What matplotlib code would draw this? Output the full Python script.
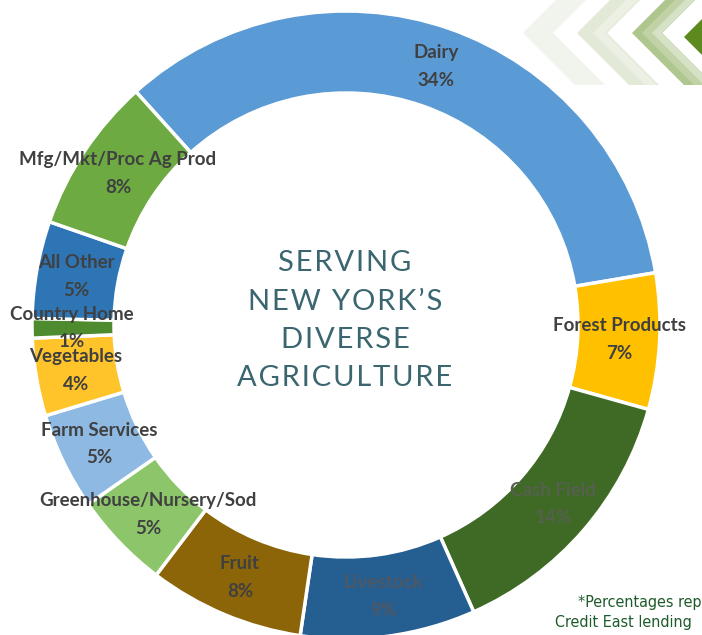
import matplotlib.pyplot as plt
from matplotlib.patches import Polygon

categories = ['Dairy', 'Forest Products', 'Cash Field', 'Livestock', 'Fruit',
              'Greenhouse/Nursery/Sod', 'Farm Services', 'Vegetables',
              'Country Home', 'All Other', 'Mfg/Mkt/Proc Ag Prod']
shares = [34, 7, 14, 9, 8, 5, 5, 4, 1, 5, 8]
colors = ['#5B9BD5', '#FFC000', '#3E6A26', '#255E91', '#8B6508',
          '#8CC56A', '#8DB9E3', '#FFC42A', '#4E8A2E', '#2E75B6', '#6DAA41']
label_colors = ['#404040', '#404040', '#55604d', '#4d5865', '#404040',
                '#404040', '#404040', '#404040', '#404040', '#404040', '#404040']

center_title = ['SERVING', 'NEW YORK\u2019S', 'DIVERSE', 'AGRICULTURE']
footnote = ['*Percentages rep', 'Credit East lending']

W, H = 702, 635
fig = plt.figure(figsize=(W / 100, H / 100), dpi=100)
ax = fig.add_axes([0, 0, 1, 1])


def py(y):
    # picture rows go down, axes go up
    return H - y


# chevron decoration in the top right corner, cut flat at row 85
def chevron(xv, yv, thick, color, bottom=85):
    up = yv + 10
    down = bottom - yv
    pts = [(xv, yv), (xv + up, yv - up), (xv + up + thick, yv - up),
           (xv + thick, yv), (xv + thick + down, bottom), (xv + down, bottom)]
    return Polygon([(x, py(y)) for x, y in pts], closed=True, color=color, lw=0, zorder=0)


ax.add_patch(chevron(523, 33, 30, '#F1F4EC'))
ax.add_patch(chevron(577, 33, 30, '#E2E9D6'))
ax.add_patch(chevron(593, 33, 12, '#ECF0E4'))
ax.add_patch(chevron(632, 33, 30, '#AFC68E'))
ax.add_patch(chevron(642, 33, 20, '#C1D3A6'))
ax.add_patch(chevron(652, 33, 10, '#D6E2C6'))
ax.add_patch(chevron(684, 37, 90, '#5C8A1E', bottom=60))

labels = [f'{c}\n{s}%' for c, s in zip(categories, shares)]
wedges, texts = ax.pie(shares, labels=labels, colors=colors, startangle=132,
                       counterclock=False, center=(346, py(325)), radius=314,
                       labeldistance=0.872,
                       wedgeprops=dict(width=82, edgecolor='white', linewidth=2.5),
                       textprops=dict(fontsize=13.5, fontweight='bold',
                                      family=['Lato', 'DejaVu Sans'],
                                      linespacing=1.75))
for t, c in zip(texts, label_colors):
    t.set_ha('center')
    t.set_va('center')
    t.set_color(c)

ax.set_xlim(0, W)
ax.set_ylim(0, H)
ax.set_aspect('equal')
ax.axis('off')

hair = '\u200a'
for i, line in enumerate(center_title):
    ax.text(345, py(263 + i * 38.5), hair.join(line), ha='center', va='center',
            fontsize=21, color='#3B6670', family=['Lato', 'DejaVu Sans'])

ax.text(701, py(602), footnote[0], ha='right', va='center', fontsize=11.5,
        color='#1E5B2A', family='DejaVu Sans', fontstretch='condensed')
ax.text(692, py(622), footnote[1], ha='right', va='center', fontsize=11.5,
        color='#1E5B2A', family='DejaVu Sans', fontstretch='condensed')

fig.savefig('out.png', dpi=100)
